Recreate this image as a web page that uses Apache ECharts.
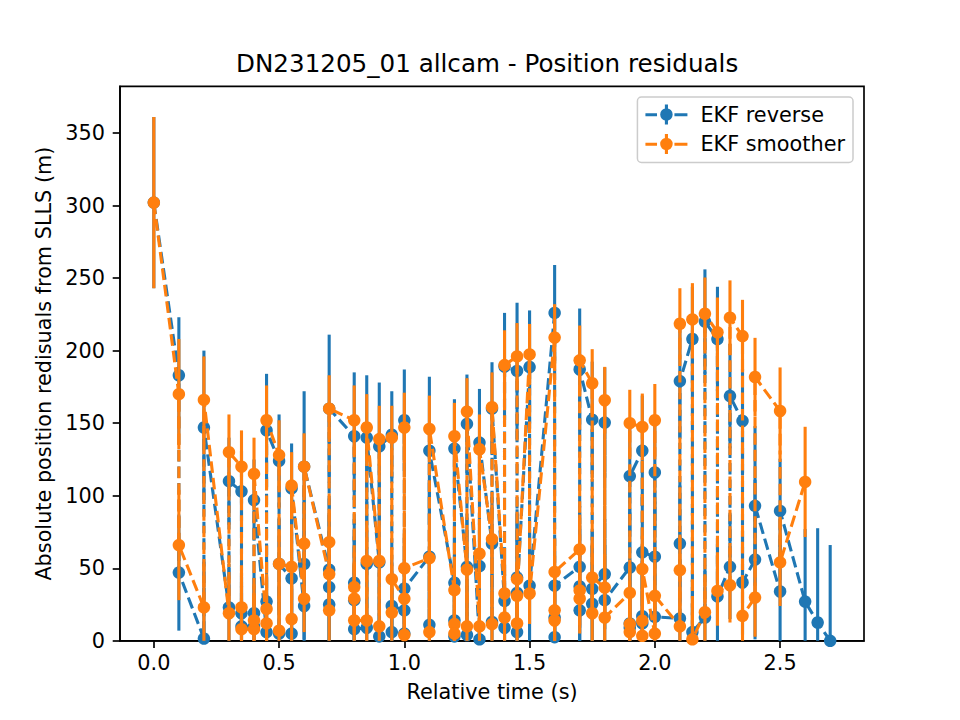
<!DOCTYPE html>
<html>
<head>
<meta charset="utf-8">
<script src="https://cdn.jsdelivr.net/npm/echarts@6/dist/echarts.min.js"></script>
<style>
html,body{margin:0;padding:0;background:#fff;}
#chart{width:960px;height:720px;}
</style>
</head>
<body>
<div id="chart"></div>
<script>
// ---- data ----
const times = [0.0,0.1,0.2,0.3,0.35,0.4,0.45,0.5,0.55,0.6,0.7,0.8,0.85,0.9,0.95,1.0,1.1,1.2,1.25,1.3,1.35,1.4,1.45,1.5,1.6,1.7,1.75,1.8,1.9,1.95,2.0,2.1,2.15,2.2,2.25,2.3,2.35,2.4,2.5,2.6,2.65,2.7];

const reverseValues = [[302],[183,47],[1.5,147],[23,110],[103,19,10],[10,19,97],[6,27,145],[124,5,53],[43,5,105],[24,53,120],[49,25,37,160],[141,28,40,8],[9,53,140],[54,3,134],[142,6,24],[21,5,152,36],[58,11,131],[40,14,3,132.5],[51,4,149.5],[1,51.5,136.6],[67,13,160],[27.5,9,189],[186,6,43.6,33],[188.7,38],[226,2.5,16,38],[51,21,37.4,187],[152.4,25.5,35.8],[46,150.4,28],[50.5,9,12,113.5],[131,12,17,61],[58,116,16.5],[15.4,67,179],[208,6],[16,220],[208,30.6],[51,168.7],[151.5,40.2],[56,93],[34,89.5],[27],[12.6],[0]];
const reverseErrors = [59,40,53,30,28,28,39,32,31,52,51,44,43,44,30,35,51,34,34,37,32,37,47,39,33,42,40,38,38,38,38,40,36,36,36,36,36,55,36,50,65,66];

const smootherValues = [[302],[170,66],[23,166],[19,130],[120,23,8],[8,14,115],[12,22,152],[128,7,53],[51,15,107],[29,67,120],[46,21,68,160],[152,29,37,14],[14,55,147],[55,10,139],[140,19.5,42.5],[29,4,147,50],[57,6,146],[35,11.5,5,141],[49,10,158],[10,60,132],[70,11.5,161],[32.6,16,190],[196,12,42.5,31],[197.4,32.6],[209,14,21,47.5],[63,29,34.7,193.3],[177.5,19,43.6],[36.7,165.8,16],[33,6,11.5,150],[147.4,3.4,13.8,49.4],[5,152,31],[10,48.7,218.5],[221.5,1],[19.7,225.4],[212.6,34.4],[38.3,222.7],[210,17.2],[29.8,181.8],[158.4,54],[109.5],[],[]];
const smootherErrors = [59,38,30,26,25,25,24,24,23,23,23,24,23,23,22,24,23,23,23,24,24,24,23,21,23,24,23.5,23,23,23,25,24.5,25,25,24,25.7,25,27,30,38,0,0];

const xTicks = [0,0.5,1.0,1.5,2.0,2.5];
const yTicks = [0,50,100,150,200,250,300,350];

const seriesNames = ['EKF reverse','EKF smoother'];
const titleText = 'DN231205_01 allcam - Position residuals';
const xLabel = 'Relative time (s)';
const yLabel = 'Absolute position redisuals from SLLS (m)';

// ---- build ----
const BLUE = '#1f77b4', ORANGE = '#ff7f0e';
const FONT = 'DejaVu Sans';

function buildPoints(values){
  const out = [];
  times.forEach((t,i)=>values[i].forEach(v=>out.push([t,v])));
  return out;
}
function buildBars(values, errs){
  const out = [];
  times.forEach((t,i)=>values[i].forEach(v=>out.push([t,v,errs[i]])));
  return out;
}

function barSeries(name, data, color, z){
  return {
    type:'custom', name:name, data:data, z:z, silent:true, animation:false,
    encode:{x:0,y:1},
    renderItem:function(params, api){
      const x = api.value(0), y = api.value(1), e = api.value(2);
      const p1 = api.coord([x, y + e]);
      const p2 = api.coord([x, Math.max(y - e, 0)]);
      return {type:'line', shape:{x1:p1[0],y1:p1[1],x2:p2[0],y2:p2[1]},
              style:{stroke:color, lineWidth:3.1, lineCap:'butt'}};
    }
  };
}
function lineSeries(name, data, color, z){
  return {
    type:'line', name:name, data:data, z:z, animation:false, clip:true,
    symbol:'circle', symbolSize:12.5, showAllSymbol:true,
    lineStyle:{color:color, width:3.1, type:[11.6,5]},
    itemStyle:{color:color, borderWidth:0},
    emphasis:{disabled:true}
  };
}

const ICON = 'path://M0,9.2H11.6V12.3H0Z M29,9.2H42V12.3H29Z M19.45,0.5H22.55V20.5H19.45Z M14.75,10.5A6.25,6.25 0 1,1 27.25,10.5A6.25,6.25 0 1,1 14.75,10.5Z';

const chart = echarts.init(document.getElementById('chart'), null, {renderer:'svg', width:960, height:720});
chart.setOption({
  backgroundColor:'#ffffff',
  animation:false,
  title:{
    text:titleText, left:236, top:51, padding:0,
    textStyle:{fontFamily:FONT, fontSize:24.6, fontWeight:'normal', color:'#000'}
  },
  legend:{
    orient:'vertical', right:107, top:97, z:10,
    itemWidth:42, itemHeight:21, itemGap:8.5,
    padding:[7,8,8,8],
    backgroundColor:'rgba(255,255,255,0.8)', borderColor:'#cccccc', borderWidth:1.5, borderRadius:4,
    selectedMode:false,
    textStyle:{fontFamily:FONT, fontSize:20.8, color:'#000', padding:[0,0,0,8]},
    data:[{name:seriesNames[0], icon:ICON},{name:seriesNames[1], icon:ICON}]
  },
  grid:{left:120, top:86.4, width:744, height:554.4, show:true, borderColor:'#000', borderWidth:1.67, backgroundColor:'transparent', containLabel:false, outerBoundsMode:'none'},
  xAxis:{
    type:'value', min:-0.135, max:2.835,
    name:xLabel, nameLocation:'middle', nameGap:41,
    nameTextStyle:{fontFamily:FONT, fontSize:20.8, color:'#000'},
    splitLine:{show:false},
    axisLine:{show:true, onZero:false, lineStyle:{color:'#000', width:1.67}},
    axisTick:{show:true, inside:false, length:7.3, lineStyle:{color:'#000', width:1.67}, customValues:xTicks},
    axisLabel:{show:true, margin:12, fontFamily:FONT, fontSize:20.8, color:'#000', customValues:xTicks,
      formatter:function(v){return v.toFixed(1);}}
  },
  yAxis:{
    type:'value', min:0, max:382.1,
    name:yLabel, nameLocation:'middle', nameGap:62,
    nameTextStyle:{fontFamily:FONT, fontSize:20.8, color:'#000'},
    splitLine:{show:false},
    axisLine:{show:true, onZero:false, lineStyle:{color:'#000', width:1.67}},
    axisTick:{show:true, inside:false, length:7.3, lineStyle:{color:'#000', width:1.67}, customValues:yTicks},
    axisLabel:{show:true, margin:15, fontFamily:FONT, fontSize:20.8, color:'#000', customValues:yTicks,
      formatter:function(v){return String(Math.round(v));}}
  },
  series:[
    barSeries('reverse errors', buildBars(reverseValues, reverseErrors), BLUE, 2),
    lineSeries(seriesNames[0], buildPoints(reverseValues), BLUE, 3),
    barSeries('smoother errors', buildBars(smootherValues, smootherErrors), ORANGE, 4),
    lineSeries(seriesNames[1], buildPoints(smootherValues), ORANGE, 5)
  ]
});
</script>
</body>
</html>
